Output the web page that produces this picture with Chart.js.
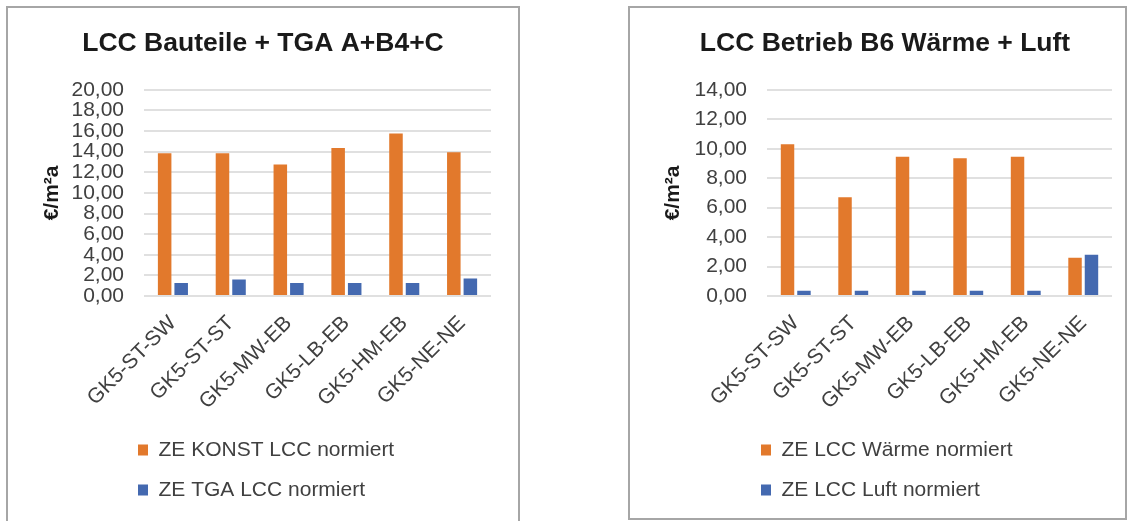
<!DOCTYPE html>
<html>
<head>
<meta charset="utf-8">
<script src="https://cdn.jsdelivr.net/npm/chart.js@4.4.1/dist/chart.umd.min.js"></script>
<style>
  body { margin: 0; background: #fff; width: 1128px; height: 521px; overflow: hidden; position: relative; }
  .box { position: absolute; border: 2px solid #a6a6a6; background: #fff; }
  #boxLeft { left: 6px; top: 6px; width: 510px; height: 516px; }
  #boxRight { left: 628px; top: 6px; width: 495px; height: 510px; }
  canvas { display: block; }
</style>
</head>
<body>
<div class="box" id="boxLeft"><canvas id="chartBauteile" width="510" height="516"></canvas></div>
<div class="box" id="boxRight"><canvas id="chartBetrieb" width="495" height="510"></canvas></div>
<script>
// Varianten
const categories = ['GK5-ST-SW', 'GK5-ST-ST', 'GK5-MW-EB', 'GK5-LB-EB', 'GK5-HM-EB', 'GK5-NE-NE'];

// LCC Bauteile + TGA A+B4+C
const konstLcc = [13.85, 13.85, 12.75, 14.35, 15.75, 13.95];
const tgaLcc = [1.25, 1.6, 1.25, 1.25, 1.25, 1.7];
const leftTicks = ['0,00', '2,00', '4,00', '6,00', '8,00', '10,00', '12,00', '14,00', '16,00', '18,00', '20,00'];

// LCC Betrieb B6 Wärme + Luft
const waermeLcc = [10.3, 6.7, 9.45, 9.35, 9.45, 2.6];
const luftLcc = [0.35, 0.35, 0.35, 0.35, 0.35, 2.8];
const rightTicks = ['0,00', '2,00', '4,00', '6,00', '8,00', '10,00', '12,00', '14,00'];

const orange = '#E2792C';
const blue = '#4469B0';

Chart.defaults.font.family = "'Liberation Sans', Arial, sans-serif";

// legend sits under the plot but starts a bit left of it
const shiftLegend = {
  id: 'shiftLegend',
  afterLayout(chart) {
    const lg = chart.legend;
    lg.left -= chart.options.legendShift;
    lg.right -= chart.options.legendShift;
  }
};

function buildChart(id, cfg) {
  const ctx = document.getElementById(id).getContext('2d');
  return new Chart(ctx, {
    type: 'bar',
    data: {
      labels: categories,
      datasets: [
        {
          label: cfg.names[0],
          data: cfg.first,
          backgroundColor: orange,
          categoryPercentage: 0.572,
          barPercentage: 0.818
        },
        {
          label: cfg.names[1],
          data: cfg.second,
          backgroundColor: blue,
          categoryPercentage: 0.572,
          barPercentage: 0.818
        }
      ]
    },
    options: {
      responsive: false,
      animation: false,
      legendShift: 25,
      layout: { padding: { left: cfg.padLeft, right: cfg.padRight, top: 0, bottom: cfg.padBottom } },
      plugins: {
        title: {
          display: true,
          text: cfg.title,
          color: '#1a1a1a',
          font: { size: 26.5, weight: 'bold' },
          padding: { top: 20, bottom: 30 }
        },
        legend: {
          position: 'bottom',
          align: 'start',
          fullSize: false,
          labels: {
            boxWidth: 10,
            boxHeight: 11,
            padding: 19,
            color: '#404040',
            font: { size: 21 }
          }
        },
        tooltip: { enabled: false }
      },
      scales: {
        x: {
          grid: { display: false },
          border: { display: false },
          ticks: {
            minRotation: 45,
            maxRotation: 45,
            autoSkip: false,
            padding: 7,
            color: '#404040',
            font: { size: 21 }
          },
          afterFit: function(scale) { scale.height = 124.5; }
        },
        y: {
          min: 0,
          max: cfg.max,
          grid: { color: '#e0e0e0', lineWidth: 2, drawTicks: false },
          border: { display: false },
          ticks: {
            stepSize: 2,
            autoSkip: false,
            padding: 20,
            color: '#404040',
            font: { size: 21 },
            callback: function(value, index) { return cfg.ticks[index]; }
          },
          title: {
            display: true,
            text: '€/m²a',
            color: '#1a1a1a',
            font: { size: 21, weight: 'bold' },
            padding: { top: cfg.yTitlePad, bottom: 0 }
          },
          afterFit: function(scale) { scale.width = cfg.yWidth; }
        }
      }
    },
    plugins: [shiftLegend]
  });
}

buildChart('chartBauteile', {
  title: 'LCC Bauteile + TGA A+B4+C',
  names: ['ZE KONST LCC normiert', 'ZE TGA LCC normiert'],
  first: konstLcc,
  second: tgaLcc,
  ticks: leftTicks,
  max: 20,
  padLeft: 27,
  padRight: 27,
  padBottom: 13.5,
  yWidth: 109,
  yTitlePad: 4.4
});

buildChart('chartBetrieb', {
  title: 'LCC Betrieb B6 Wärme + Luft',
  names: ['ZE LCC Wärme normiert', 'ZE LCC Luft normiert'],
  first: waermeLcc,
  second: luftLcc,
  ticks: rightTicks,
  max: 14,
  padLeft: 28,
  padRight: 13,
  padBottom: 7.5,
  yWidth: 109,
  yTitlePad: 2.4
});
</script>
</body>
</html>
